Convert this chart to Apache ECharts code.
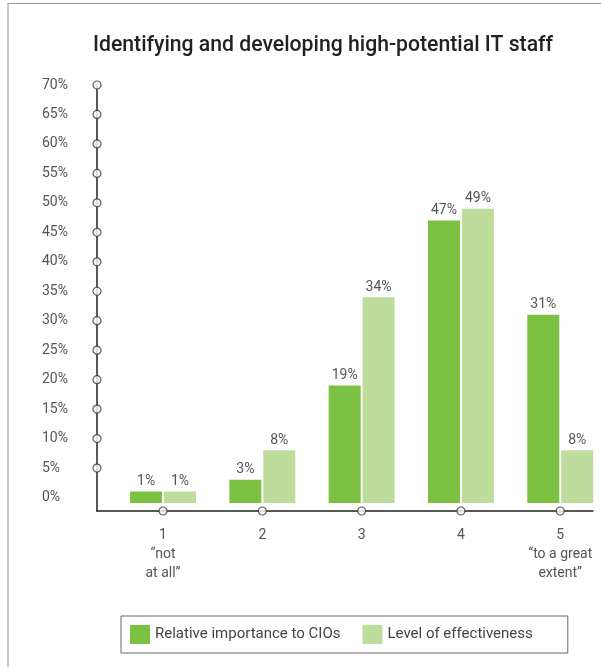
<!DOCTYPE html>
<html>
<head>
<meta charset="utf-8">
<script src="https://cdn.jsdelivr.net/npm/echarts@6/dist/echarts.min.js"></script>
<style>
  html, body { margin: 0; padding: 0; background: #fff; }
  #frame { position: absolute; left: 7px; top: 3px; width: 594px; height: 664px;
           border-left: 2px solid #c8c8c8; border-top: 1px solid #999; box-sizing: border-box; }
  #chart { position: absolute; left: 0; top: 0; width: 601px; height: 667px; }
</style>
</head>
<body>
<div id="frame"></div>
<div id="chart"></div>
<script>
// Survey scale points and their captions
const categories = ['1', '2', '3', '4', '5'];
const categoryCaptions = ['“not\nat all”', '', '', '', '“to a great\nextent”'];

// Share of respondents (%) per scale point
const importance = [1, 3, 19, 47, 31];
const effectiveness = [1, 8, 34, 49, 8];

// Value axis ticks (%)
const yTicks = [0, 5, 10, 15, 20, 25, 30, 35, 40, 45, 50, 55, 60, 65, 70];

const seriesNames = ['Relative importance to CIOs', 'Level of effectiveness'];
const colors = ['#7cc142', '#bedd9c'];

// Axis extents: the baseline sits a little below zero, bars start slightly under it
const yMin = -2.29, yMax = 70;
const xMin = 0.335, xMax = 5.33;
const barFoot = -0.93;

const font = 'Roboto, "Liberation Sans", sans-serif';

const pos = categories.map((c, i) => i + 1);
const toPoints = arr => arr.map((v, i) => [pos[i], v]);

const chart = echarts.init(document.getElementById('chart'));

function barSeries(name, values, color) {
  return {
    name, type: 'bar',
    data: toPoints(values), barWidth: 32, barGap: '6%',
    itemStyle: { color },
    label: {
      show: true, position: 'top', distance: 3,
      color: '#555', fontSize: 14, fontFamily: font,
      formatter: p => p.value[1] + '%'
    }
  };
}

chart.setOption({
  animation: false,
  textStyle: { fontFamily: font },
  title: {
    text: 'Identifying and developing high-potential IT staff',
    left: 88, top: 30,
    textStyle: { fontFamily: font, fontSize: 21.2, fontWeight: 500, color: '#222' }
  },
  legend: {
    data: seriesNames,
    left: 121, top: 616, width: 470,
    borderColor: '#666', borderWidth: 1,
    padding: [9, 35, 9, 9],
    itemWidth: 20, itemHeight: 19, itemGap: 22,
    icon: 'rect',
    textStyle: { fontFamily: font, fontSize: 15, color: '#444' }
  },
  grid: { left: 97, top: 85, width: 496, height: 426, containLabel: false },
  xAxis: [{
    type: 'value', min: xMin, max: xMax,
    axisLine: { show: true, onZero: false, lineStyle: { color: '#222', width: 1.5 } },
    axisTick: { show: false },
    splitLine: { show: false },
    axisLabel: {
      customValues: pos,
      margin: 15, color: '#555', fontSize: 14, lineHeight: 19, fontFamily: font,
      formatter: v => {
        const i = pos.indexOf(v);
        return categoryCaptions[i] ? categories[i] + '\n' + categoryCaptions[i] : categories[i];
      }
    }
  }],
  yAxis: [{
    type: 'value', min: yMin, max: yMax,
    startValue: barFoot,
    axisLine: { show: true, onZero: false, lineStyle: { color: '#222', width: 1.5 } },
    axisTick: { show: false },
    splitLine: { show: false },
    axisLabel: {
      customValues: yTicks,
      align: 'left', margin: 55,
      color: '#555', fontSize: 14, fontFamily: font,
      formatter: v => v + '%'
    }
  }],
  series: [
    barSeries(seriesNames[0], importance, colors[0]),
    barSeries(seriesNames[1], effectiveness, colors[1]),
    {
      // hollow tick markers on the value axis
      name: 'y-ticks', type: 'scatter', clip: false, z: 10, silent: true,
      data: yTicks.filter(t => t > 0).map(t => [xMin, t]),
      symbol: 'circle', symbolSize: 8,
      itemStyle: { color: '#fff', borderColor: '#333', borderWidth: 1.2 }
    },
    {
      // hollow tick markers on the category baseline
      name: 'x-ticks', type: 'scatter', clip: false, z: 10, silent: true,
      data: pos.map(p => [p, yMin]),
      symbol: 'circle', symbolSize: 8,
      itemStyle: { color: '#fff', borderColor: '#333', borderWidth: 1.2 }
    }
  ]
});
</script>
</body>
</html>
